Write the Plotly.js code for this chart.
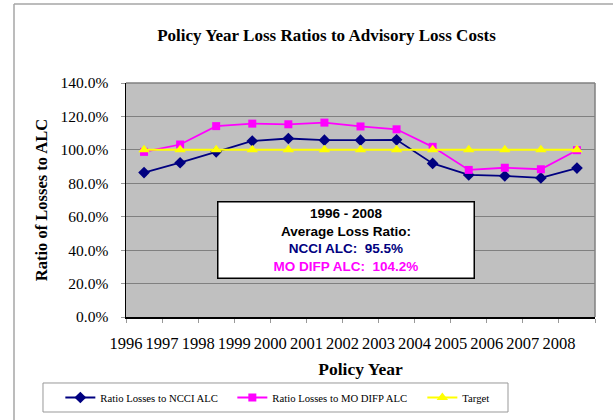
<!DOCTYPE html>
<html>
<head>
<meta charset="utf-8">
<script src="https://cdn.plot.ly/plotly-3.0.1.min.js"></script>
<style>
  html, body { margin: 0; padding: 0; background: #ffffff; }
  #chart { width: 613px; height: 420px; }
</style>
</head>
<body>
<div id="chart"></div>
<script>
// ---- data ----
const years = [1996, 1997, 1998, 1999, 2000, 2001, 2002, 2003, 2004, 2005, 2006, 2007, 2008];
const yearLabels = ['1996','1997','1998','1999','2000','2001','2002','2003','2004','2005','2006','2007','2008'];
const ncci = [86.4, 92.3, 98.8, 105.3, 106.8, 105.8, 105.8, 106.0, 91.9, 85.0, 84.4, 83.2, 89.1];
const modifp = [98.8, 103.2, 114.2, 115.7, 115.3, 116.3, 114.0, 112.3, 101.8, 88.0, 89.3, 88.4, 99.8];
const target = [100, 100, 100, 100, 100, 100, 100, 100, 100, 100, 100, 100, 100];
const seriesNames = ['Ratio Losses to NCCI ALC', 'Ratio Losses to MO DIFP ALC', 'Target'];
const titleText = 'Policy Year Loss Ratios to Advisory Loss Costs';
const xTitle = 'Policy Year';
const yTitle = 'Ratio of Losses to ALC';
const boxLines = ['1996 - 2008', 'Average Loss Ratio:', 'NCCI ALC:&nbsp; 95.5%', 'MO DIFP ALC:&nbsp; 104.2%'];

const serif = 'Liberation Serif, Times New Roman, serif';
const sans = 'Liberation Sans, Arial, sans-serif';

// category boundaries (the source chart prints each year label on the left boundary of its cell)
const boundaries = years.map(y => y - 0.5).concat([years[years.length - 1] + 0.5]);
const boundaryText = yearLabels.concat(['']);

const traces = [
  {
    x: years, y: ncci, name: seriesNames[0], type: 'scatter', mode: 'lines+markers',
    line: { color: '#000080', width: 1.8 },
    marker: { symbol: 'diamond', size: 9, color: '#000080' },
    legendwidth: 127
  },
  {
    x: years, y: modifp, name: seriesNames[1], type: 'scatter', mode: 'lines+markers',
    line: { color: '#FF00FF', width: 1.8 },
    marker: { symbol: 'square', size: 8, color: '#FF00FF' },
    legendwidth: 145
  },
  {
    x: years, y: target, name: seriesNames[2], type: 'scatter', mode: 'lines+markers',
    line: { color: '#FFFF00', width: 2 },
    marker: { symbol: 'triangle-up', size: 10, color: '#FFFF00' }
  }
];

const layout = {
  width: 613, height: 420,
  margin: { l: 126, r: 18, t: 83, b: 103, autoexpand: false },
  paper_bgcolor: '#ffffff',
  plot_bgcolor: '#C0C0C0',
  showlegend: true,
  title: {
    text: titleText,
    font: { family: serif, size: 17, color: '#000000', weight: 'bold' },
    x: 0.5326, xanchor: 'center', xref: 'container',
    y: 0.9167, yanchor: 'middle', yref: 'container'
  },
  xaxis: {
    type: 'linear',
    range: [years[0] - 0.5, years[years.length - 1] + 0.5],
    tickmode: 'array', tickvals: boundaries, ticktext: boundaryText,
    ticks: 'outside', ticklen: 4, tickcolor: '#999999', tickwidth: 1,
    tickangle: 0,
    ticklabelstandoff: 7,
    showgrid: false, zeroline: false,
    showline: true, linecolor: '#000000', linewidth: 1.5,
    tickfont: { family: serif, size: 16.5, color: '#000000' },
    title: { text: xTitle, font: { family: serif, size: 17.5, color: '#000000', weight: 'bold' }, standoff: 10 },
    fixedrange: true
  },
  yaxis: {
    range: [0, 140], dtick: 20, tick0: 0,
    tickformat: '.1f', ticksuffix: '%',
    ticks: 'outside', ticklen: 4, tickcolor: '#999999', tickwidth: 1,
    ticklabelstandoff: 9,
    showgrid: true, gridcolor: '#808080', gridwidth: 1,
    zeroline: false,
    showline: true, linecolor: '#000000', linewidth: 1.5,
    tickfont: { family: serif, size: 15.5, color: '#000000' },
    title: { text: yTitle, font: { family: serif, size: 16.5, color: '#000000', weight: 'bold' }, standoff: 9 },
    fixedrange: true
  },
  legend: {
    orientation: 'h',
    x: -0.14, xanchor: 'left',
    y: -0.344, yanchor: 'middle',
    bgcolor: 'rgba(0,0,0,0)', borderwidth: 0,
    font: { family: serif, size: 10.7, color: '#000000' },
    traceorder: 'normal'
  },
  shapes: [
    // outer chart frame (left and top edges)
    { type: 'line', xref: 'paper', yref: 'paper', x0: -0.2388, x1: -0.2388, y0: -0.45, y1: 1.3376,
      line: { color: '#A6A6A6', width: 1.5 } },
    { type: 'line', xref: 'paper', yref: 'paper', x0: -0.2388, x1: 1.06, y0: 1.3376, y1: 1.3376,
      line: { color: '#A6A6A6', width: 1.5 } },
    // plot area top/right border
    { type: 'line', xref: 'paper', yref: 'paper', x0: 0, x1: 1, y0: 1, y1: 1,
      line: { color: '#808080', width: 1.5 }, layer: 'above' },
    { type: 'line', xref: 'paper', yref: 'paper', x0: 1, x1: 1, y0: 0, y1: 1,
      line: { color: '#808080', width: 1.5 }, layer: 'above' },
    // legend frame
    { type: 'rect', xref: 'paper', yref: 'paper', x0: -0.177, x1: 0.8145, y0: -0.406, y1: -0.282,
      line: { color: '#999999', width: 1 } }
  ],
  annotations: [
    {
      xref: 'paper', yref: 'paper', x: 0.470, y: 0.327, xanchor: 'center', yanchor: 'middle',
      showarrow: false,
      text: '<b>' + boxLines[0] + '<br>' + boxLines[1] + '<br>' +
            '<span style="color:#000080">' + boxLines[2] + '</span><br>' +
            '<span style="color:#FF00FF">' + boxLines[3] + '</span></b>',
      font: { family: sans, size: 13.5, color: '#000000' },
      align: 'center',
      bgcolor: '#ffffff', bordercolor: '#000000', borderwidth: 1.5, borderpad: 0,
      width: 255, height: 75
    }
  ]
};

Plotly.newPlot('chart', traces, layout, { displayModeBar: false, staticPlot: true });
</script>
</body>
</html>
